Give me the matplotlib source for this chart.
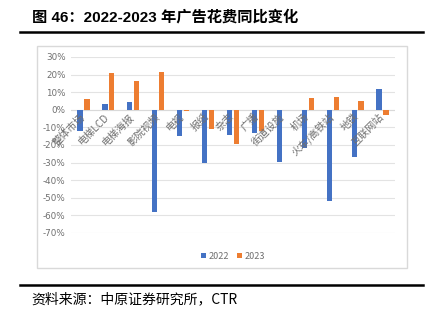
import matplotlib
matplotlib.use("Agg")
import matplotlib.pyplot as plt
import numpy as np
from matplotlib.patches import Rectangle
from matplotlib.lines import Line2D

plt.rcParams['font.family'] = ['Noto Sans CJK SC', 'DejaVu Sans']

categories = ["整体市场", "电梯LCD", "电梯海报", "影院视频", "电视", "报纸", "杂志",
              "广播", "街道设施", "机场", "火车/高铁站", "地铁", "互联网站"]
values_2022 = [-11.8, 3.4, 4.2, -58.0, -15.0, -30.5, -14.2, -13.3, -29.7, -21.8, -52.0, -27.0, 11.9]
values_2023 = [6.0, 20.8, 16.3, 21.6, -0.5, -11.0, -19.4, -12.3, 0.0, 6.6, 7.0, 5.1, -2.8]
series_names = ["2022", "2023"]
yticks = [30, 20, 10, 0, -10, -20, -30, -40, -50, -60, -70]

W, H = 436, 321
fig = plt.figure(figsize=(W / 100, H / 100), dpi=100)

# chart frame
fig.patches.append(Rectangle((37 / W, 1 - 268 / H), 370 / W, 222 / H, transform=fig.transFigure,
                             fill=False, edgecolor="#d9d9d9", linewidth=1.0))

ax = fig.add_axes([71 / W, 1 - 233 / H, 324 / W, 176 / H])
x = np.arange(len(categories))
bw = 0.21
off = 0.14
ax.bar(x - off, values_2022, bw, color="#4472C4", label=series_names[0], zorder=3)
ax.bar(x + off, values_2023, bw, color="#ED7D31", label=series_names[1], zorder=3)

ax.set_xlim(-0.5, len(categories) - 0.5)
ax.set_ylim(-70, 30)
ax.set_yticks(yticks)
ax.set_yticklabels([f"{v}%" for v in yticks], fontsize=6.3, color="#6f6f6f", family="DejaVu Sans")
ax.yaxis.grid(True, color="#e3e3e3", linewidth=0.8, zorder=0)
ax.tick_params(axis='y', length=0, pad=4)
ax.set_xticks([])
for s in ax.spines.values():
    s.set_visible(False)
ax.axhline(0, color="#d9d9d9", linewidth=0.8, zorder=2)

for i, c in enumerate(categories):
    ax.text(i + 0.12, -1.0, c, rotation=45, ha="right", va="top", fontsize=7.3,
            color="#6f6f6f", zorder=4)

leg = ax.legend(loc="upper center", bbox_to_anchor=(0.5, -0.06), ncol=2, frameon=False,
                fontsize=6.5, handlelength=0.6, handleheight=0.6, columnspacing=0.8,
                handletextpad=0.3)
for t in leg.get_texts():
    t.set_color("#6f6f6f")

# title and rules
fig.text(32 / W, 1 - 17 / H, "图 46：2022-2023 年广告花费同比变化", fontsize=11,
         fontweight="bold", va="center", ha="left", color="black",
         family=["Liberation Sans", "Noto Sans CJK SC"])
fig.add_artist(Line2D([20 / W, 423 / W], [1 - 32 / H, 1 - 32 / H], color="black", linewidth=1.8,
                      transform=fig.transFigure))
fig.add_artist(Line2D([20 / W, 423 / W], [1 - 285 / H, 1 - 285 / H], color="black", linewidth=1.8,
                      transform=fig.transFigure))
fig.text(31 / W, 1 - 299 / H, "资料来源：中原证券研究所，CTR", fontsize=10, va="center", ha="left",
         color="black", family=["Noto Sans CJK SC", "DejaVu Sans"])

fig.savefig("out.png", dpi=100)
